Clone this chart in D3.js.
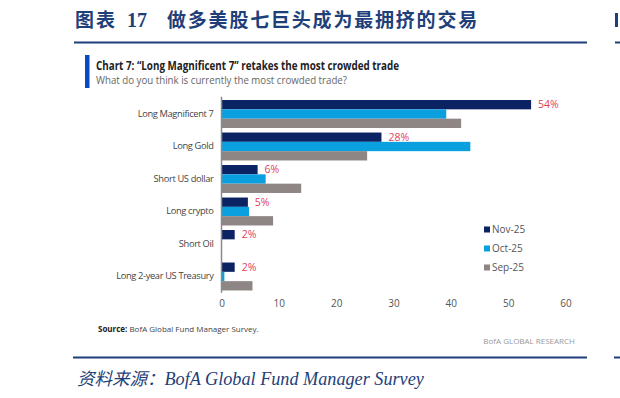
<!DOCTYPE html>
<html>
<head>
<meta charset="utf-8">
<script src="https://cdn.jsdelivr.net/npm/d3@7"></script>
<style>
  body { margin: 0; background: #fff; }
  svg { display: block; }
</style>
</head>
<body>
<svg></svg>
<script>
// chart size
var width = 620;
var height = 398;

// data
var categories = ["Long Magnificent 7", "Long Gold", "Short US dollar", "Long crypto", "Short Oil", "Long 2-year US Treasury"];
var seriesNames = ["Nov-25", "Oct-25", "Sep-25"];
var nov25 = [54, 27.9, 6.3, 4.6, 2.3, 2.3];
var oct25 = [39.2, 43.4, 7.7, 4.8, 0, 0.5];
var sep25 = [41.8, 25.4, 13.9, 9.0, 0, 5.4];
var novLabels = ["54%", "28%", "6%", "5%", "2%", "2%"];
var xTicks = [0, 10, 20, 30, 40, 50, 60];

var colors = ["#0b2263", "#0a9fdf", "#8e8585"];
var navy = "#1f3f7a";

var series = [nov25, oct25, sep25];

var svg = d3.select("svg")
    .attr("width", width)
    .attr("height", height);

// header in Chinese
var head = svg.append("g").style("fill", navy).style("font-weight", 700).style("font-size", "19px");
head.append("text")
    .attr("x", 75).attr("y", 27)
    .style("font-family", "'Noto Sans CJK SC'")
    .style("letter-spacing", "2px")
    .text("图表");
head.append("text")
    .attr("x", 127).attr("y", 27)
    .style("font-family", "'Liberation Serif'")
    .style("font-size", "20px")
    .text("17");
head.append("text")
    .attr("x", 167).attr("y", 27)
    .style("font-family", "'Noto Sans CJK SC'")
    .style("letter-spacing", "1.8px")
    .text("做多美股七巨头成为最拥挤的交易");

// the small bit of the next column at the right edge
svg.append("rect").attr("x", 615).attr("y", 13).attr("width", 3).attr("height", 14).style("fill", navy);

svg.append("line")
    .attr("x1", 74).attr("x2", 587)
    .attr("y1", 42.5).attr("y2", 42.5)
    .style("stroke", navy).style("stroke-width", 2);
svg.append("line")
    .attr("x1", 615).attr("x2", 620)
    .attr("y1", 42.5).attr("y2", 42.5)
    .style("stroke", navy).style("stroke-width", 2);

// blue marker + chart title
svg.append("rect")
    .attr("x", 85).attr("y", 55)
    .attr("width", 4.5).attr("height", 33)
    .style("fill", "#0a4bc4");

svg.append("text")
    .attr("x", 96)
    .attr("y", 69.5)
    .attr("textLength", 303)
    .attr("lengthAdjust", "spacingAndGlyphs")
    .style("font-family", "'Open Sans'")
    .style("font-weight", 700)
    .style("font-size", "11.5px")
    .style("fill", "#222")
    .text("Chart 7: \u201cLong Magnificent 7\u201d retakes the most crowded trade");

svg.append("text")
    .attr("x", 96)
    .attr("y", 84)
    .attr("textLength", 251)
    .attr("lengthAdjust", "spacingAndGlyphs")
    .style("font-family", "'Open Sans'")
    .style("font-size", "10.5px")
    .style("fill", "#666")
    .text("What do you think is currently the most crowded trade?");

// scales
var x = d3.scaleLinear()
    .domain([0, 60])
    .range([221.5, 565.5]);

var y = d3.scaleBand()
    .domain(categories)
    .range([97.75, 292.75])
    .paddingInner(0.14)
    .paddingOuter(0.07);

var ySub = d3.scaleBand()
    .domain(seriesNames)
    .range([0, y.bandwidth()]);

// bars
var groups = svg.selectAll("g.cat")
    .data(categories)
    .enter().append("g")
    .attr("class", "cat")
    .attr("transform", function(d) { return "translate(0," + y(d) + ")"; });

groups.selectAll("rect")
    .data(function(d, i) {
        return series.map(function(s, j) { return {name: seriesNames[j], value: s[i], color: colors[j]}; });
    })
    .enter().append("rect")
    .attr("x", x(0))
    .attr("y", function(d) { return ySub(d.name); })
    .attr("width", function(d) { return x(d.value) - x(0); })
    .attr("height", ySub.bandwidth())
    .style("fill", function(d) { return d.color; });

// value labels on Nov bars
groups.append("text")
    .attr("x", function(d, i) { return x(nov25[i]) + 7; })
    .attr("y", ySub("Nov-25") + ySub.bandwidth() / 2)
    .attr("dy", "0.35em")
    .style("font-family", "'Open Sans'")
    .style("font-size", "10.5px")
    .style("fill", "#e0415c")
    .text(function(d, i) { return novLabels[i]; });

// category labels
svg.append("g")
    .attr("transform", "translate(" + x(0) + ",0)")
    .call(d3.axisLeft(y).tickSize(0).tickPadding(8))
    .call(function(g) {
        g.select(".domain").attr("stroke", "#8a8a8a").attr("stroke-width", 1.5)
            .attr("d", "M0," + (y.range()[0] - 1) + "V" + y.range()[1]);
        g.selectAll("text")
            .style("font-family", "'Open Sans'")
            .style("font-size", "9.3px")
            .style("letter-spacing", "-0.35px")
            .style("fill", "#444");
    });

// x axis labels only
svg.append("g")
    .attr("transform", "translate(0,300)")
    .call(d3.axisBottom(x).tickValues(xTicks).tickSize(0).tickPadding(0))
    .call(function(g) {
        g.select(".domain").remove();
        g.selectAll("text")
            .attr("dy", "0.71em")
            .style("font-family", "'Open Sans'")
            .style("font-size", "10px")
            .style("fill", "#555");
    });

// legend
var legend = svg.selectAll("g.legend")
    .data(seriesNames)
    .enter().append("g")
    .attr("class", "legend")
    .attr("transform", function(d, i) { return "translate(484," + (229.5 + i * 19) + ")"; });

legend.append("rect")
    .attr("x", 0).attr("y", -3)
    .attr("width", 6).attr("height", 6)
    .style("fill", function(d, i) { return colors[i]; });

legend.append("text")
    .attr("x", 8)
    .attr("dy", "0.35em")
    .style("font-family", "'Open Sans'")
    .style("font-size", "10px")
    .style("fill", "#555")
    .text(function(d) { return d; });

// source note
var src = svg.append("text")
    .attr("x", 98)
    .attr("y", 332)
    .style("font-family", "'Open Sans'")
    .style("font-size", "8px")
    .style("fill", "#444");
src.append("tspan").style("font-weight", 700).style("fill", "#222").text("Source:");
src.append("tspan").text(" BofA Global Fund Manager Survey.");

svg.append("text")
    .attr("x", 575)
    .attr("y", 343.5)
    .attr("text-anchor", "end")
    .style("font-family", "'Open Sans'")
    .style("font-size", "8px")
    .style("fill", "#999")
    .text("BofA GLOBAL RESEARCH");

// bottom rule and footer
svg.append("line")
    .attr("x1", 73).attr("x2", 587)
    .attr("y1", 357.5).attr("y2", 357.5)
    .style("stroke", navy).style("stroke-width", 2);
svg.append("line")
    .attr("x1", 614).attr("x2", 620)
    .attr("y1", 357.5).attr("y2", 357.5)
    .style("stroke", navy).style("stroke-width", 2);

var foot = svg.append("text")
    .attr("x", 77)
    .attr("y", 385)
    .style("font-size", "17.5px")
    .style("font-style", "italic")
    .style("fill", navy);
foot.append("tspan").style("font-family", "'Noto Sans CJK SC'").text("资料来源：");
foot.append("tspan").style("font-family", "'Liberation Serif'").style("font-size", "18.2px").text("BofA Global Fund Manager Survey");
</script>
</body>
</html>
